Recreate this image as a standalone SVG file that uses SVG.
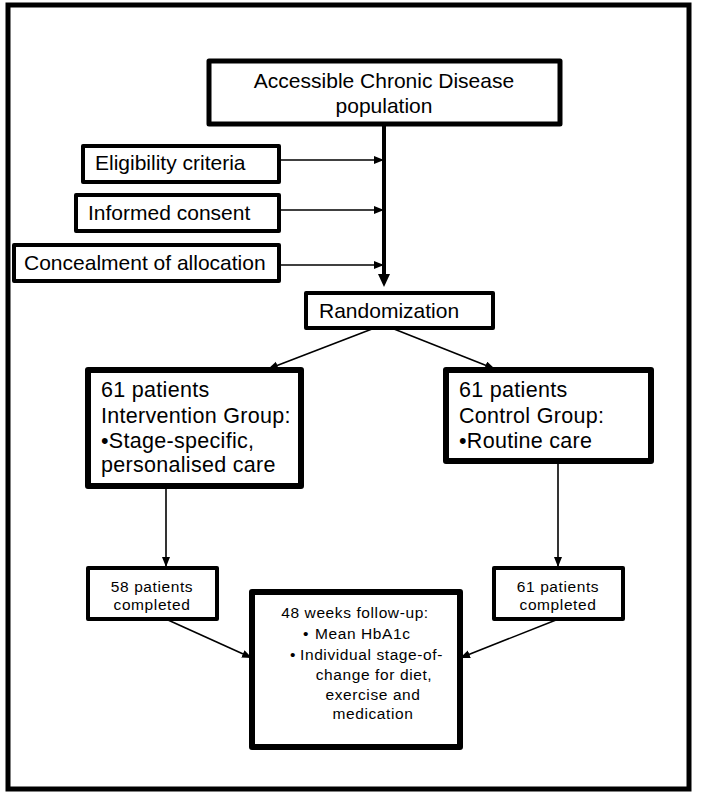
<svg xmlns="http://www.w3.org/2000/svg" width="709" height="796" viewBox="0 0 709 796">
<style>
  .box{fill:#fff;stroke:#000;stroke-linejoin:round}
  .t{font-family:"Liberation Sans",Arial,sans-serif;font-size:21px;fill:#000}
  .g{font-family:"Liberation Sans",Arial,sans-serif;font-size:21.5px;fill:#000;letter-spacing:0.3px}
  .s{font-family:"Liberation Sans",Arial,sans-serif;font-size:15.5px;fill:#000;letter-spacing:0.6px}
  .c{text-anchor:middle}
  .ln{stroke:#000;stroke-width:1.6;fill:none}
</style>
<defs>
  <marker id="ah" markerUnits="userSpaceOnUse" markerWidth="12" markerHeight="10" refX="10" refY="4" orient="auto">
    <path d="M0,0 L10,4 L0,8 Z" fill="#000"/>
  </marker>
</defs>
<rect x="0" y="0" width="709" height="796" fill="#fff"/>
<rect id="frame" x="8" y="5" width="681" height="784" fill="none" stroke="#000" stroke-width="5"/>
<g id="connectors">
  <line x1="384" y1="124" x2="384" y2="276" stroke="#000" stroke-width="4"/>
  <path d="M378,274 L390,274 L384,287 Z" fill="#000"/>
  <line class="ln" x1="279" y1="160" x2="384" y2="160" marker-end="url(#ah)"/>
  <line class="ln" x1="279" y1="210" x2="384" y2="210" marker-end="url(#ah)"/>
  <line class="ln" x1="279" y1="265" x2="384" y2="265" marker-end="url(#ah)"/>
  <line class="ln" x1="372" y1="329" x2="268" y2="369" marker-end="url(#ah)"/>
  <line class="ln" x1="394" y1="329" x2="495" y2="369" marker-end="url(#ah)"/>
  <line class="ln" x1="166" y1="487" x2="166" y2="567" marker-end="url(#ah)"/>
  <line class="ln" x1="558" y1="462" x2="558" y2="567" marker-end="url(#ah)"/>
  <line class="ln" x1="168" y1="620" x2="252" y2="658" marker-end="url(#ah)"/>
  <line class="ln" x1="556" y1="620" x2="460" y2="658" marker-end="url(#ah)"/>
</g>
<g id="population">
  <rect class="box" x="209" y="61" width="351" height="63" stroke-width="5"/>
  <text class="t c" x="384" y="88">Accessible Chronic Disease</text>
  <text class="t c" x="384" y="113">population</text>
</g>
<g id="eligibility">
  <rect class="box" x="83" y="146" width="196" height="36" stroke-width="4"/>
  <text class="t" x="95" y="170">Eligibility criteria</text>
</g>
<g id="consent">
  <rect class="box" x="76" y="195" width="203" height="36" stroke-width="4"/>
  <text class="t" x="88" y="220">Informed consent</text>
</g>
<g id="concealment">
  <rect class="box" x="14" y="245" width="265" height="36" stroke-width="4"/>
  <text class="t" x="24" y="270">Concealment of allocation</text>
</g>
<g id="randomization">
  <rect class="box" x="306" y="293" width="187" height="35" stroke-width="4"/>
  <text class="t" x="319" y="318">Randomization</text>
</g>
<g id="intervention">
  <rect class="box" x="88" y="370" width="213" height="116" stroke-width="6"/>
  <text class="g" x="101" y="397">61 patients</text>
  <text class="g" x="101" y="423">Intervention Group:</text>
  <text class="g" x="101" y="448">•Stage-specific,</text>
  <text class="g" x="101" y="472">personalised care</text>
</g>
<g id="control">
  <rect class="box" x="446" y="370" width="205" height="91" stroke-width="6"/>
  <text class="g" x="459" y="397">61 patients</text>
  <text class="g" x="459" y="423">Control Group:</text>
  <text class="g" x="459" y="448">•Routine care</text>
</g>
<g id="completed-intervention">
  <rect class="box" x="88" y="568" width="129" height="51" stroke-width="4"/>
  <text class="s c" x="152" y="592">58 patients</text>
  <text class="s c" x="152" y="610">completed</text>
</g>
<g id="completed-control">
  <rect class="box" x="494" y="568" width="129" height="51" stroke-width="4"/>
  <text class="s c" x="558" y="592">61 patients</text>
  <text class="s c" x="558" y="610">completed</text>
</g>
<g id="followup">
  <rect class="box" x="252" y="592" width="208" height="155" stroke-width="6"/>
  <text class="s c" x="355" y="618">48 weeks follow-up:</text>
  <text class="s" x="303" y="639">•</text>
  <text class="s" x="315" y="639">Mean HbA1c</text>
  <text class="s" x="290" y="660">•</text>
  <text class="s" x="300" y="660">Individual stage-of-</text>
  <text class="s c" x="374" y="680">change for diet,</text>
  <text class="s c" x="373" y="700">exercise and</text>
  <text class="s c" x="373" y="719">medication</text>
</g>
</svg>
